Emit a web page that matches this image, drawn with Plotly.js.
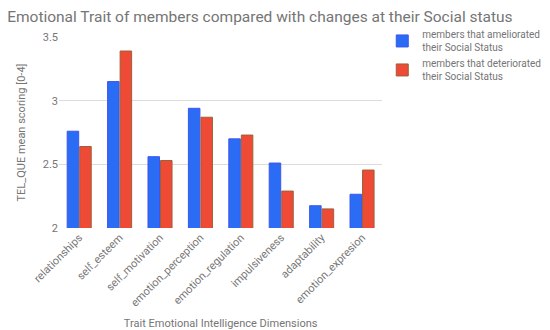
<!DOCTYPE html>
<html>
<head>
<meta charset="utf-8">
<script src="https://cdn.plot.ly/plotly-3.0.1.min.js"></script>
<style>
  body { margin: 0; }
  #plot { width: 550px; height: 330px; }
</style>
</head>
<body>
<div id="plot"></div>
<script>
// categories on the x axis
const dimensions = ['relationships', 'self_esteem', 'self_motivation', 'emotion_perception',
    'emotion_regulation', 'impulsiveness', 'adaptability', 'emotion_expresion'];

// mean scores
const ameliorated = [2.76, 3.15, 2.56, 2.94, 2.70, 2.51, 2.175, 2.265];
const deteriorated = [2.64, 3.39, 2.53, 2.87, 2.73, 2.29, 2.15, 2.455];

const yTicks = [2, 2.5, 3, 3.5];

let trace1 = {
    x: dimensions,
    y: ameliorated,
    name: 'members that ameliorated<br>their Social Status',
    type: 'bar',
    marker: { color: '#2a6df4', line: { color: '#3d55ee', width: 1 } },
};

let trace2 = {
    x: dimensions,
    y: deteriorated,
    name: 'members that deteriorated<br>their Social Status',
    type: 'bar',
    marker: { color: '#ee4a35', line: { color: '#9a6238', width: 1 } },
};

let data = [trace1, trace2];

let layout = {
    width: 550,
    height: 330,
    margin: { l: 59, r: 162, t: 37, b: 102 },
    font: { family: 'Roboto, sans-serif', color: '#757575', size: 11 },
    paper_bgcolor: '#ffffff',
    plot_bgcolor: '#ffffff',
    title: {
        text: 'Emotional Trait of members compared with changes at their Social status',
        font: { size: 15.5, color: '#757575' },
        x: 0.013, xanchor: 'left', y: 0.95, yanchor: 'middle',
    },
    barmode: 'group',
    bargap: 0.38,
    bargroupgap: 0.08,
    xaxis: {
        tickangle: -45,
        tickfont: { size: 11 },
        title: { text: 'Trait Emotional Intelligence Dimensions', font: { size: 11 }, standoff: 10 },
        showgrid: false,
        showline: false,
        ticks: '',
    },
    yaxis: {
        range: [2, 3.5],
        tickvals: yTicks,
        ticktext: yTicks.map(String),
        showgrid: true,
        gridcolor: '#dcdcdc',
        zeroline: false,
        ticks: '',
        tickfont: { size: 11 },
        title: { text: 'TEL_QUE mean scoring [0-4]', font: { size: 11 }, standoff: 14 },
    },
    legend: {
        xref: 'container', yref: 'container',
        x: 0.695, xanchor: 'left',
        y: 0.935, yanchor: 'top',
        font: { size: 10, color: '#757575' },
        tracegroupgap: 2,
        itemwidth: 30,
    },
    showlegend: true,
};

Plotly.newPlot('plot', data, layout, { displayModeBar: false });
</script>
</body>
</html>
